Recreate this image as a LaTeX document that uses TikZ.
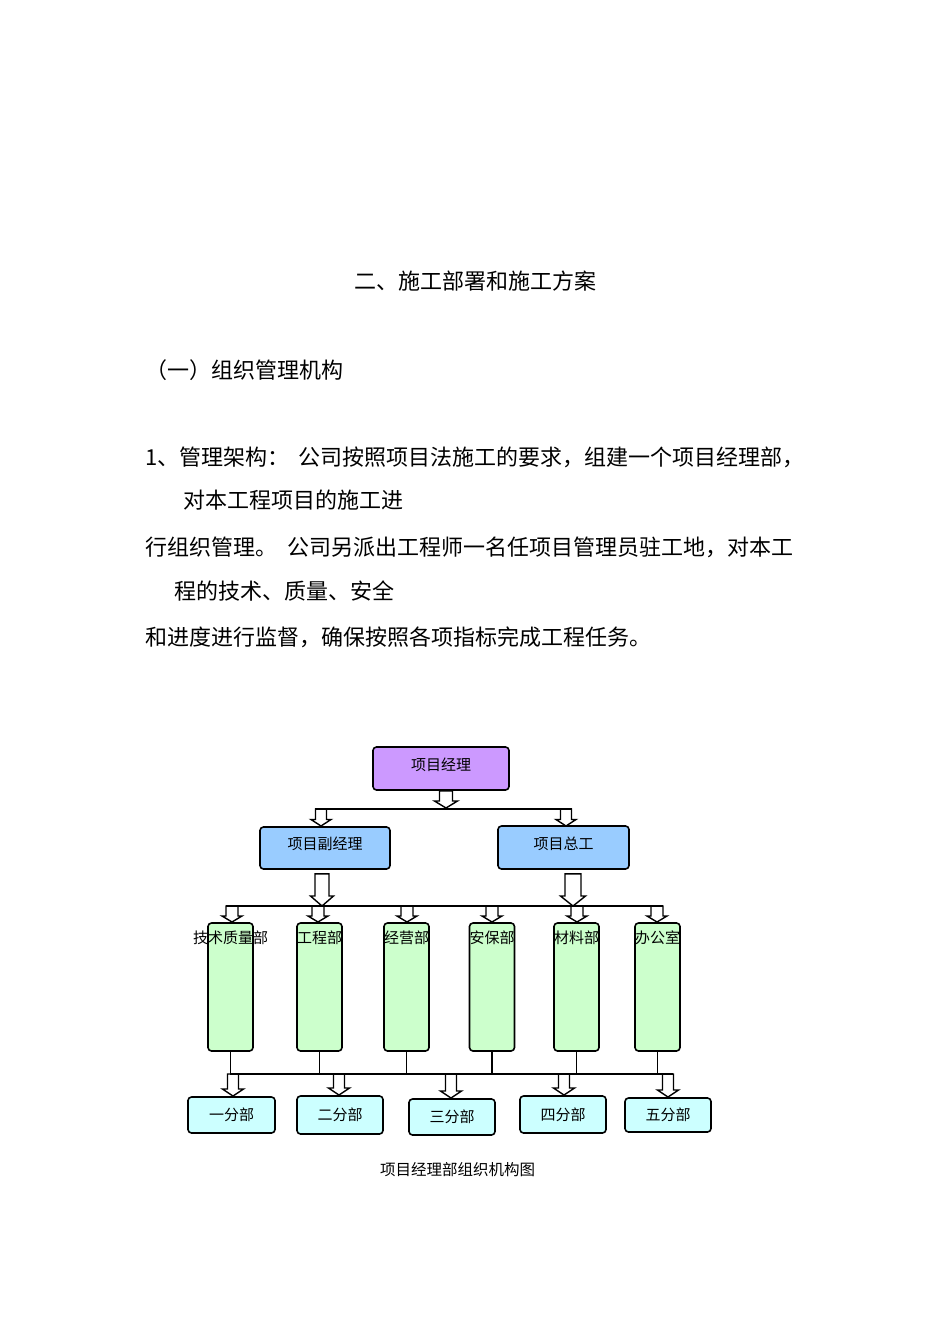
\documentclass[tikz,border=0pt]{standalone}
\usepackage{fontspec}
\newfontfamily\cjk{Noto Sans CJK SC}
\usetikzlibrary{calc}
\definecolor{pmc}{HTML}{CC99FF}
\definecolor{vpc}{HTML}{99CCFF}
\definecolor{dpc}{HTML}{CCFFCC}
\definecolor{brc}{HTML}{CCFFFF}
% block arrow: #1 start (gives y), #2 tip coordinate (gives x and tip y),
% #3 shaft half width, #4 head half width, #5 head length, #6 gap below start
\newcommand\barrow[6]{%
  \draw[blk] let \p1=(#1), \p2=(#2) in
    ({\x2-#3pt},{\y1-#6pt}) -- ({\x2-#3pt},{\y2+#5pt}) -- ({\x2-#4pt},{\y2+#5pt})
    -- (\x2,\y2) -- ({\x2+#4pt},{\y2+#5pt}) -- ({\x2+#3pt},{\y2+#5pt})
    -- ({\x2+#3pt},{\y1-#6pt}) -- cycle;}
\begin{document}
\begin{tikzpicture}[x=1pt,y=-1pt,
  box/.style={draw, line width=1.6pt, rounded corners=3.5pt, inner sep=0pt,
    font=\cjk\fontsize{15}{18}\selectfont, text height=13pt, text depth=2pt},
  tb/.style={text height=13pt, text depth=10pt},
  lab/.style={anchor=center, yshift=-16pt, inner sep=0pt,
    font=\cjk\fontsize{15}{18}\selectfont, text height=13pt, text depth=2pt},
  blk/.style={draw, line width=1.4pt, fill=white, line join=miter},
  bus/.style={draw, line width=1.5pt},
  txt/.style={anchor=west, inner sep=0pt, font=\cjk\fontsize{22}{26}\selectfont,
    text height=19pt, text depth=3pt}]
\useasboundingbox (0,0) rectangle (950,1344);
\fill[white] (0,0) rectangle (950,1344);

% ---- text ----
\node[txt, anchor=center] (title) at (475,281) {二、施工部署和施工方案};
\node[txt] (sec) at (145,370) {（一）组织管理机构};
\node[txt] (p1) at (145,457) {1、管理架构：\hspace{9pt}公司按照项目法施工的要求，组建一个项目经理部，};
\node[txt] (p2) at (183,500) {对本工程项目的施工进};
\node[txt] (p3) at (145,547) {行组织管理。\hspace{10pt}公司另派出工程师一名任项目管理员驻工地，对本工};
\node[txt] (p4) at (174,591) {程的技术、质量、安全};
\node[txt] (p5) at (145,637) {和进度进行监督，确保按照各项指标完成工程任务。};

% ---- boxes ----
\node[box, tb, fill=pmc, minimum width=136pt, minimum height=43pt] (pm) at (441,768.5) {项目经理};
\node[box, tb, fill=vpc, minimum width=130pt, minimum height=42pt] (vpm) at (325,848) {项目副经理};
\node[box, tb, fill=vpc, minimum width=131pt, minimum height=43pt] (ce) at (563.5,847.5) {项目总工};

\foreach \i/\x/\t in {1/230.5/技术质量部, 2/319.5/工程部, 3/406.5/经营部, 4/492/安保部, 5/576.5/材料部, 6/657.5/办公室}{
  \node[box, fill=dpc, minimum width=45pt, minimum height=128pt, label={[lab]north:\t}] (d\i) at (\x,987) {};
}

\node[box, fill=brc, minimum width=87pt, minimum height=36pt] (b1) at (231.5,1115) {一分部};
\node[box, fill=brc, minimum width=86pt, minimum height=38pt] (b2) at (340,1115) {二分部};
\node[box, fill=brc, minimum width=86pt, minimum height=36pt] (b3) at (452,1117) {三分部};
\node[box, fill=brc, minimum width=86pt, minimum height=37pt] (b4) at (563,1114.5) {四分部};
\node[box, fill=brc, minimum width=86pt, minimum height=34pt] (b5) at (668,1115) {五分部};

\node[font=\cjk\fontsize{15.5}{18}\selectfont, inner sep=0pt] (cap) at (457.5,1170) {项目经理部组织机构图};

% ---- bus coordinates ----
\coordinate (bus1L) at (315,809);  \coordinate (bus1R) at (572,809);
\coordinate (bus2L) at (226,906);  \coordinate (bus2R) at (663,906);
\coordinate (bus3L) at (230,1074); \coordinate (bus3R) at (673,1074);

% ---- arrow tips ----
\coordinate (t0) at (446,808);
\coordinate (t1) at (321,826);
\coordinate (t2) at (566,826);
\coordinate (t3) at (322,906);
\coordinate (t4) at (573,906);
\foreach \i/\x in {1/232, 2/318, 3/407, 4/492, 5/577, 6/657}{
  \coordinate (g\i) at (\x,922);
}
\coordinate (h1) at (233,1096);
\coordinate (h2) at (339,1095);
\coordinate (h3) at (451,1098);
\coordinate (h4) at (564,1095);
\coordinate (h5) at (668,1097);

% ---- arrows ----
\barrow{pm.south}{t0}{6.5}{11.5}{7}{0}
\barrow{bus1L}{t1}{5.5}{10}{6.5}{0}
\barrow{bus1L}{t2}{5.5}{10}{6.5}{0}
\barrow{vpm.south}{t3}{7}{11.5}{10}{4}
\barrow{ce.south}{t4}{8}{12.5}{10}{4}
\foreach \i in {1,...,6}{
  \barrow{bus2L}{g\i}{6}{10}{6}{0}
}
\foreach \i in {1,...,5}{
  \barrow{bus3L}{h\i}{5.5}{10.5}{7}{0}
}

% ---- bus lines ----
\draw[bus] (bus1L) -- (bus1R);
\draw[bus] (bus2L) -- (bus2R);
\draw[bus] (bus3L) -- (bus3R);
\foreach \i in {1,...,6}{
  \draw[bus] (d\i.south) -- (d\i.south |- bus3L);
}
\end{tikzpicture}
\end{document}
